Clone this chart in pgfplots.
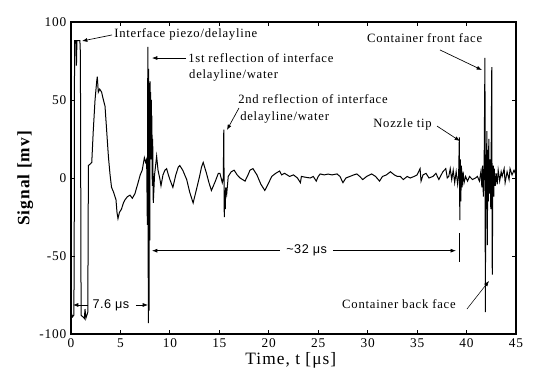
\documentclass[border=0pt]{standalone}
\usepackage{fontspec}
\setmainfont{Liberation Serif}[LetterSpace=6]
\newfontfamily\sansf{Liberation Sans}[LetterSpace=4]
\usepackage{pgfplots}
\pgfplotsset{compat=1.18}
\usetikzlibrary{arrows.meta}
\begin{document}
\begin{tikzpicture}
\path[use as bounding box] (0,0) rectangle (401.25pt,281.25pt);
\begin{axis}[
 at={(53.25pt,30.75pt)}, anchor=south west,
 scale only axis, width=333.75pt, height=234pt,
 xmin=0, xmax=45, ymin=-100, ymax=100,
 xtick={0,5,...,45}, ytick={-100,-50,0,50,100},
 tick align=inside, major tick length=3pt,
 tick style={black, line width=0.6pt},
 /pgf/number format/assume math mode=true,
 tick label style={font=\fontsize{10}{12}\selectfont},
 clip=false,
 axis line style={line width=0.8pt},
 xlabel={Time, t [μs]}, ylabel={\textbf{Signal [mv]}},
 xlabel style={at={(axis description cs:0.494,-0.083)}, anchor=center, font=\fontsize{13}{15}\selectfont},
 ylabel style={at={(axis description cs:-0.103,0.5)}, anchor=center, font=\fontsize{13}{15}\selectfont},
 every node/.append style={inner sep=1pt},
]
\addplot[black, line width=0.75pt] coordinates {
(0,-86) (0.15,-89) (0.28,-88) (0.32,-60) (0.36,88) (0.5,88) (0.55,72) (0.6,88) (0.9,88) (0.95,80)
(1.02,-88) (1.2,-89) (1.35,-90) (1.42,-84) (1.5,-90) (1.7,-86) (1.76,8) (1.95,9) (2.1,10) (2.25,30)
(2.43,50) (2.6,62) (2.66,65) (2.76,55) (2.9,57) (3.1,55) (3.2,52) (3.44,46) (3.6,31) (3.78,14)
(3.95,2) (4.1,-6) (4.3,-9) (4.45,-12) (4.55,-14) (4.65,-22) (4.75,-26) (4.9,-22) (5.1,-20) (5.3,-16)
(5.46,-14) (5.7,-12) (5.97,-11) (6.2,-13) (6.47,-10) (6.6,-7) (6.74,-4) (7.0,2) (7.2,5) (7.42,13)
(7.55,10) (7.65,12) (7.72,-30) (7.77,84) (7.82,-93) (7.86,70) (7.9,-85) (7.94,55) (7.97,-40) (8.0,62)
(8.03,20) (8.06,55) (8.09,12) (8.12,50) (8.15,15) (8.18,40) (8.22,-5) (8.26,25) (8.32,-16) (8.45,2)
(8.66,14) (8.8,5) (9.0,-1) (9.1,-5) (9.3,2) (9.5,5) (9.67,6) (9.85,2) (10.0,-1) (10.3,-6)
(10.6,2) (10.85,7) (11.0,8) (11.3,5) (11.7,-1) (12.0,-9) (12.35,-16) (12.7,-7) (13.0,1) (13.2,7)
(13.37,10) (13.7,3) (13.95,-3) (14.2,-8) (14.6,-2) (14.9,3) (15.06,3) (15.3,-3) (15.4,0) (15.45,31)
(15.5,-25) (15.55,-8) (15.6,-20) (15.65,-6) (15.75,-10) (15.9,1) (16.2,4) (16.5,5) (16.8,2) (17.1,0)
(17.6,-2) (17.9,2) (18.1,5) (18.4,6) (18.8,2) (19.2,-4) (19.6,-8) (20.0,-3) (20.3,1) (20.7,3)
(21.1,4.5) (21.3,2) (21.6,3) (22.1,1) (22.5,2) (22.9,0) (23.2,-3) (23.3,1) (23.7,0.5) (24.2,0)
(24.5,1) (24.8,-2) (25.0,1) (25.2,2.6) (25.6,2) (26.0,2.5) (26.4,2) (26.9,2.6) (27.2,1) (27.5,-3)
(27.8,0) (28.2,1) (28.6,2) (28.9,2.6) (29.2,1) (29.5,-1) (29.9,1) (30.4,2.6) (30.8,1) (31.2,-2)
(31.5,1) (31.9,2) (32.3,4) (32.7,2) (33.0,1) (33.3,1) (33.6,-1) (34.0,1) (34.3,0) (34.7,1)
(35.0,2) (35.3,6) (35.4,-2) (35.6,2) (35.9,3) (36.2,0) (36.6,1) (36.9,3) (37.2,-1) (37.6,4)
(37.9,6) (38.05,0) (38.2,1) (38.35,6) (38.5,-1) (38.65,5) (38.8,-3) (38.95,4) (39.1,-4) (39.2,2)
(39.27,26) (39.32,-27) (39.37,12) (39.42,-15) (39.48,8) (39.55,-6) (39.65,4) (39.75,-3) (39.9,1) (40.1,-2)
(40.3,1) (40.6,-1) (40.9,0) (41.1,1) (41.3,-2) (41.45,4) (41.55,-6) (41.62,8) (41.7,-12) (41.78,10)
(41.86,77) (41.9,-86) (41.95,15) (42.0,-20) (42.05,30) (42.1,-43) (42.15,18) (42.2,-15) (42.25,25) (42.3,-10)
(42.38,12) (42.45,-20) (42.55,71) (42.6,-62) (42.65,-10) (42.7,8) (42.75,-12) (42.8,6) (42.9,-5) (43.0,3)
(43.1,-4) (43.2,5) (43.35,-2) (43.5,4) (43.6,1) (43.8,6) (43.9,-3) (44.1,4) (44.3,-1) (44.4,6)
(44.6,2) (44.8,5) (45,2)
};
% annotations
\begin{scope}[font=\fontsize{9.5}{11}\selectfont, every node/.style={inner sep=0pt}]
\node[anchor=west] at (4.35,92.3) {Interface piezo/delayline};
\draw[-{Latex[length=4pt,width=3pt]}, line width=0.5pt] (4.15,91.7) -- (1.11,87.8);
\node[anchor=west] at (11.83,76.9) {1st reflection of interface};
\node[anchor=west] at (11.93,66) {delayline/water};
\draw[-{Latex[length=4pt,width=3pt]}, line width=0.5pt] (11.63,76.9) -- (8.19,76.9);
\node[anchor=west] at (16.89,50.6) {2nd reflection of interface};
\node[anchor=west] at (17.09,39.1) {delayline/water};
\draw[-{Latex[length=4pt,width=3pt]}, line width=0.5pt] (16.99,44.9) -- (15.77,30.8);
\node[anchor=west] at (29.93,89.7) {Container front face};
\draw[-{Latex[length=4pt,width=3pt]}, line width=0.5pt] (37.31,82.1) -- (41.56,69.2);
\node[anchor=west] at (30.54,34.6) {Nozzle tip};
\draw[-{Latex[length=4pt,width=3pt]}, line width=0.5pt] (37.01,33.3) -- (39.33,23.7);
\node[anchor=west] at (27.4,-80.8) {Container back face};
\draw[-{Latex[length=4pt,width=3pt]}, line width=0.4pt] (40.04,-84) -- (42.27,-66);
\end{scope}
\begin{scope}[font=\sansf\fontsize{9.5}{11}\selectfont, every node/.style={inner sep=0pt}]
\node at (4.04,-81.4) {7.6 μs};
\draw[-{Latex[length=4pt,width=3pt]}, line width=0.5pt] (1.72,-81.4) -- (0.2,-81.4);
\draw[-{Latex[length=4pt,width=3pt]}, line width=0.5pt] (6.57,-81.4) -- (7.79,-81.4);
\node at (23.83,-46.6) {\textasciitilde32 μs};
\draw[-{Latex[length=4pt,width=3pt]}, line width=0.5pt] (21.13,-46.6) -- (8.19,-46.6);
\draw[-{Latex[length=4pt,width=3pt]}, line width=0.5pt] (26.49,-46.6) -- (38.93,-46.6);
\draw[line width=0.6pt] (39.23,-35.3) -- (39.23,-53.8);
\end{scope}
\end{axis}
\end{tikzpicture}
\end{document}
